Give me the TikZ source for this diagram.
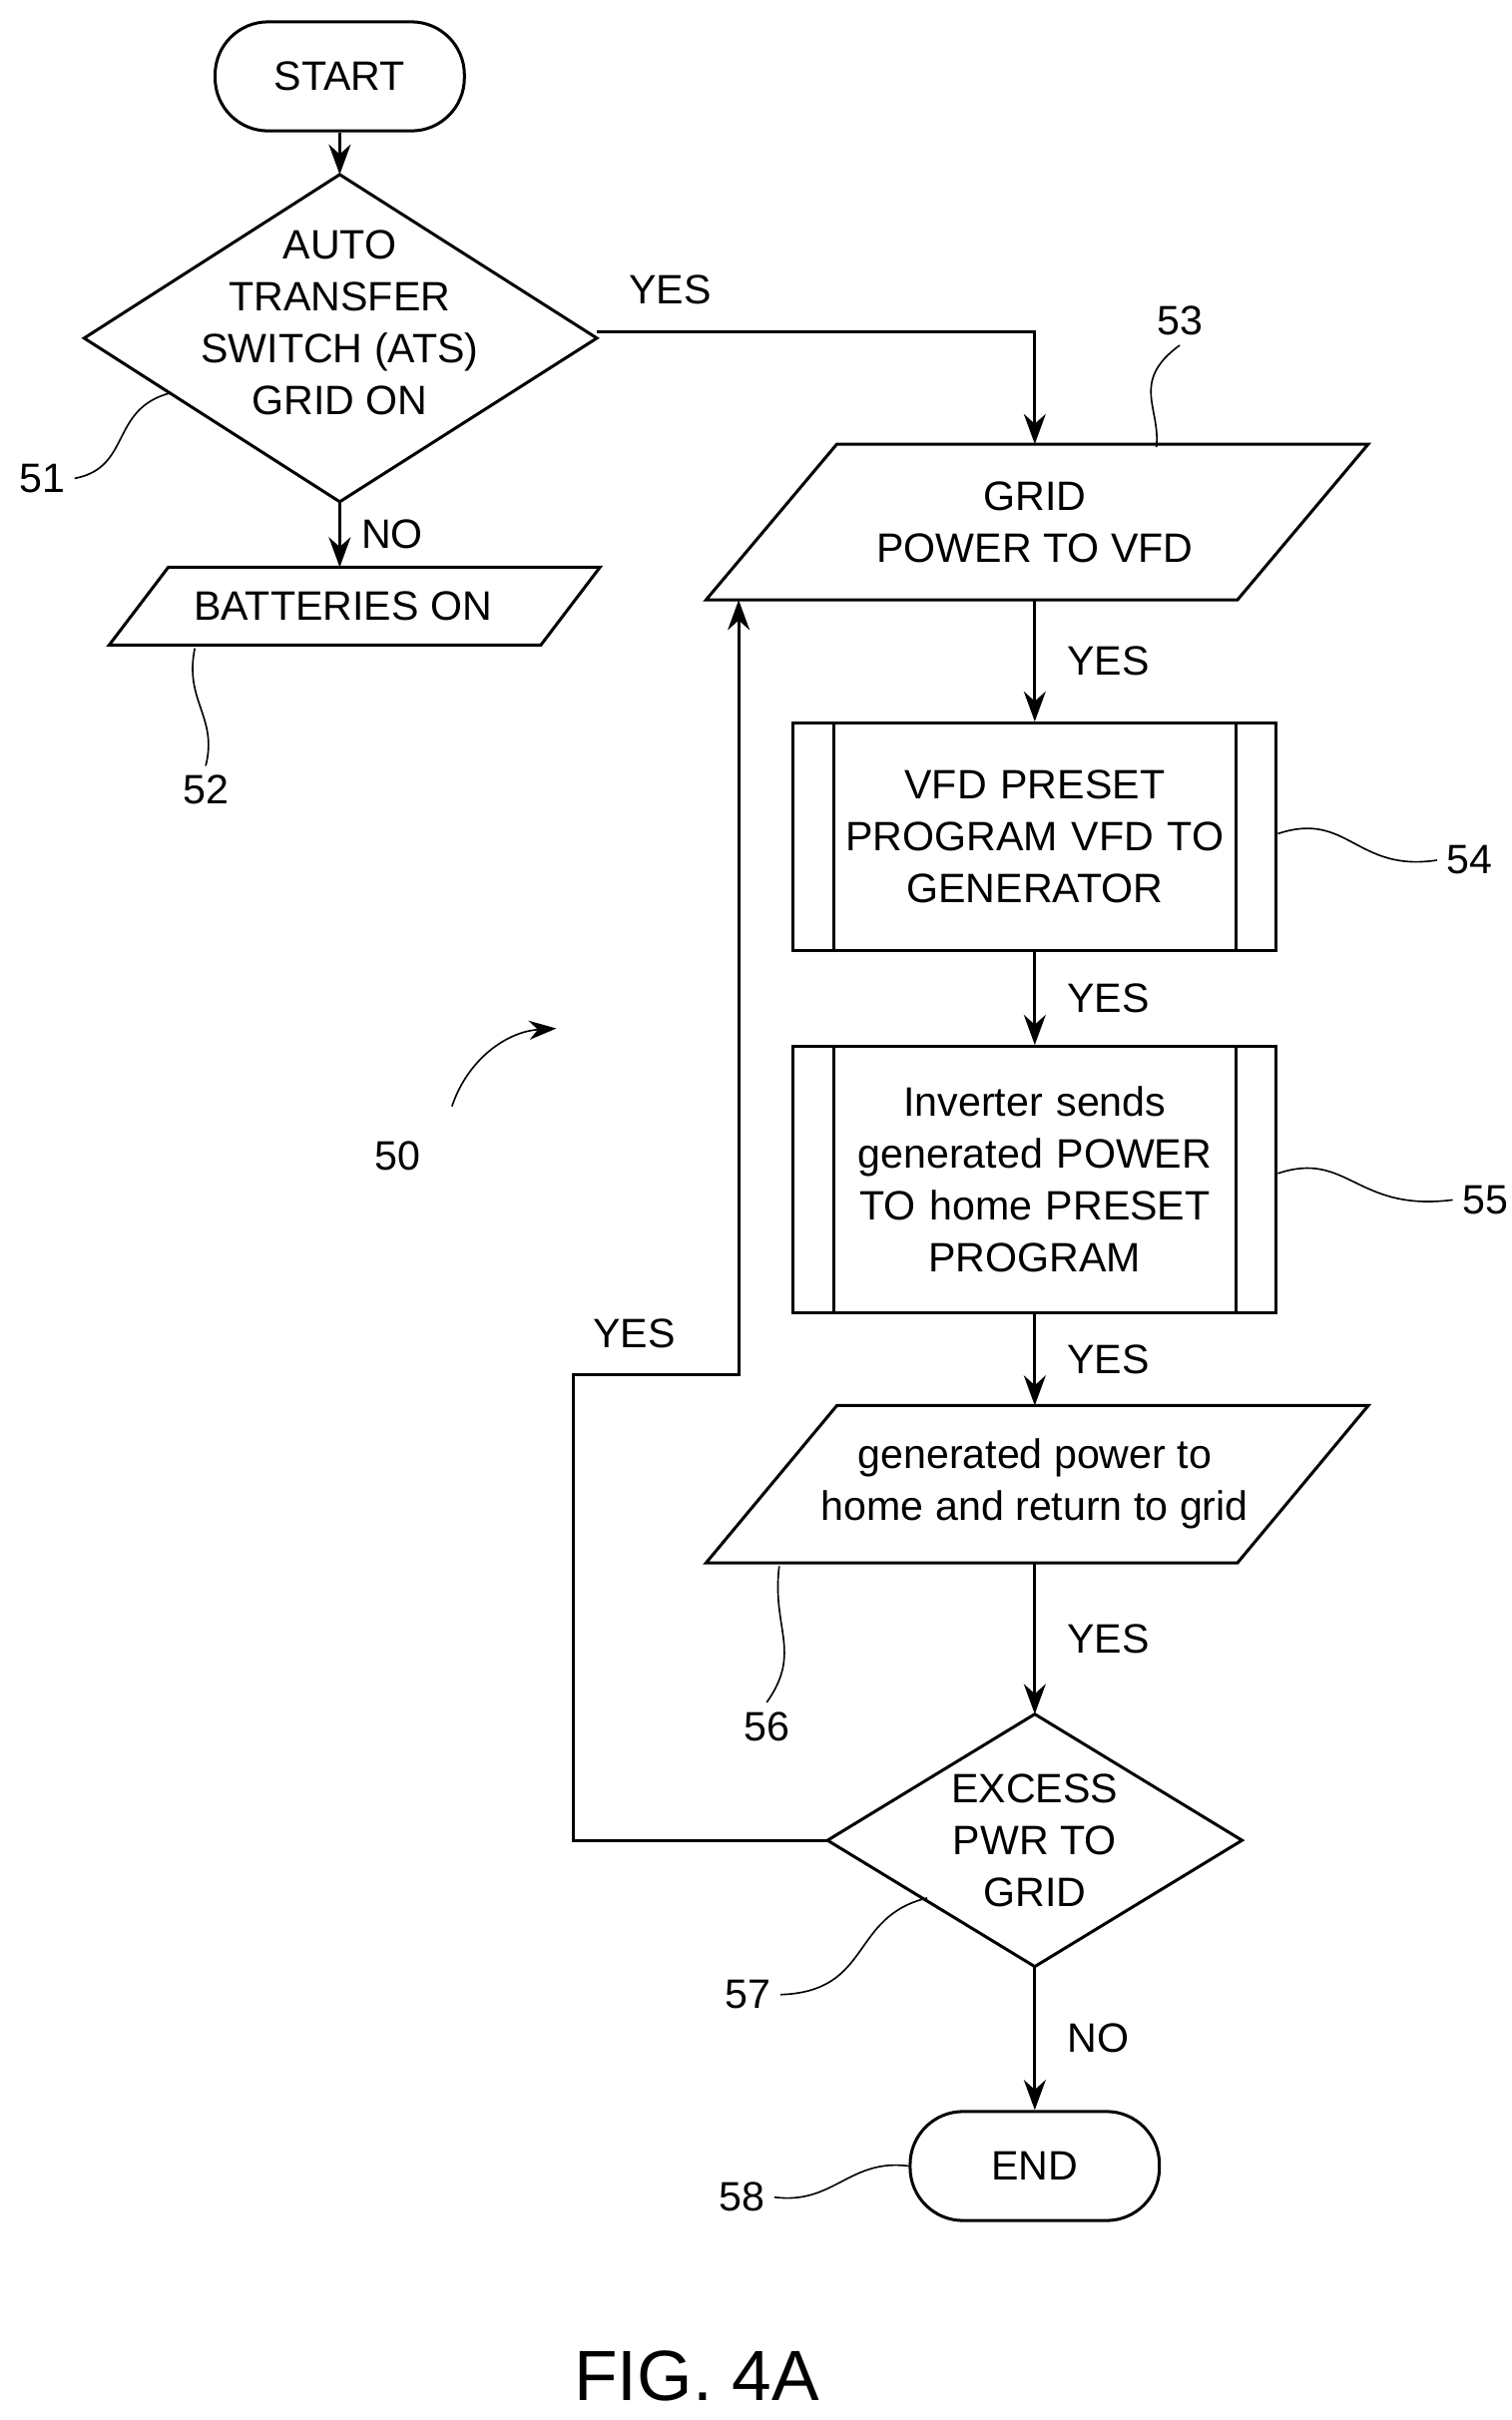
\documentclass[tikz,border=0pt]{standalone}
\usepackage{fontspec}
\setmainfont{Liberation Sans}
\usetikzlibrary{arrows.meta, calc}
\tikzset{
    term/.style = {
      draw, line width=1.1pt,
      rounded corners=0.68cm,
      minimum width=3.2cm, minimum height=1.4cm,
      font=\fontsize{15}{19}\selectfont
    },
    proc/.style = {
      draw, line width=1.1pt,
      minimum width=6.2cm,
      text width=5.2cm, align=center,
      font=\fontsize{15}{19}\selectfont
    },
    txt/.style = {
      align=center,
      font=\fontsize{15}{19}\selectfont
    },
    outline/.style = {
      line width=1.1pt
    },
    flow/.style = {
      line width=1.1pt,
      -{Stealth[length=11pt,width=8pt]}
    },
    ref/.style = {
      line width=0.6pt
    },
}
\begin{document}
\begin{tikzpicture}[x=0.02cm, y=-0.02cm]
    \useasboundingbox (0,0) rectangle (970,1553);

    % terminals
    \node[term] (START) at (218,49) {START};
    \node[term] (END) at (664,1390) {END};

    % decisions
    \draw[outline] (54,217) -- (218,112) -- (383,217) -- (218,322) -- cycle;
    \node[txt] (ATS) at (218,207) {AUTO\\TRANSFER\\SWITCH (ATS)\\GRID ON};
    \coordinate (ATStop) at (218,112);
    \coordinate (ATSbot) at (218,322);
    \coordinate (ATSright) at (383,213);

    \draw[outline] (531,1181) -- (664,1100) -- (797,1181) -- (664,1262) -- cycle;
    \node[txt] (EXCESS) at (664,1181) {EXCESS\\PWR TO\\GRID};
    \coordinate (EXCtop) at (664,1100);
    \coordinate (EXCbot) at (664,1262);
    \coordinate (EXCleft) at (531,1181);

    % input/output
    \draw[outline] (108,364) -- (385,364) -- (347,414) -- (70,414) -- cycle;
    \node[txt] (BATT) at (220,389) {BATTERIES ON};
    \coordinate (BATTtop) at (218,364);

    \draw[outline] (537,285) -- (878,285) -- (794,385) -- (453,385) -- cycle;
    \node[txt] (GRID) at (664,335) {GRID\\POWER TO VFD};
    \coordinate (GRIDtop) at (664,285);
    \coordinate (GRIDbot) at (664,385);
    \coordinate (GRIDret) at (474,385);

    \draw[outline] (537,902) -- (878,902) -- (794,1003) -- (453,1003) -- cycle;
    \node[txt] (HOME) at (664,952) {generated power to\\home and return to grid};
    \coordinate (HOMEtop) at (664,902);
    \coordinate (HOMEbot) at (664,1003);

    % processes
    \node[proc, minimum height=2.92cm] (VFD) at (664,537)
        {VFD PRESET\\PROGRAM VFD TO\\GENERATOR};
    \node[proc, minimum height=3.42cm] (INV) at (664,757)
        {Inverter sends\\generated POWER\\TO home PRESET\\PROGRAM};
    \foreach \n in {VFD, INV} {
      \draw[outline] ($(\n.north west)+(27,0)$) -- ($(\n.south west)+(27,0)$);
      \draw[outline] ($(\n.north east)-(27,0)$) -- ($(\n.south east)-(27,0)$);
    }

    % connectors
    \draw[flow] (START) -- (ATStop);
    \draw[flow] (ATSbot) -- (BATTtop) node[txt, midway, right=4pt] {NO};
    \draw[flow] (ATSright) -- (664,213) -- (GRIDtop);
    \node[txt] at (430,186) {YES};
    \draw[flow] (GRIDbot) -- (VFD.north) node[txt, midway, right=8pt] {YES};
    \draw[flow] (VFD.south) -- (INV.north) node[txt, midway, right=8pt] {YES};
    \draw[flow] (INV.south) -- (HOMEtop) node[txt, midway, right=8pt] {YES};
    \draw[flow] (HOMEbot) -- (EXCtop) node[txt, midway, right=8pt] {YES};
    \draw[flow] (EXCleft) -- (368,1181) -- (368,882) -- (474,882) -- (GRIDret);
    \node[txt] at (407,856) {YES};
    \draw[flow] (EXCbot) -- (END) node[txt, midway, right=8pt] {NO};

    % reference numerals
    \node[txt] (R50) at (255,742) {50};
    \node[txt] (R51) at (27,307) {51};
    \node[txt] (R52) at (132,507) {52};
    \node[txt] (R53) at (757,206) {53};
    \node[txt] (R54) at (943,552) {54};
    \node[txt] (R55) at (953,770) {55};
    \node[txt] (R56) at (492,1108) {56};
    \node[txt] (R57) at (480,1280) {57};
    \node[txt] (R58) at (476,1410) {58};

    \draw[ref] (110,252) .. controls (70,262) and (85,300) .. (R51.east);
    \draw[ref] (125,416) .. controls (118,450) and (140,460) .. (R52.north);
    \draw[ref] (742,287) .. controls (745,262) and (725,245) .. (R53.south);
    \draw[ref] (820,535) .. controls (865,520) and (870,560) .. (R54.west);
    \draw[ref] (820,753) .. controls (865,738) and (870,778) .. (R55.west);
    \draw[ref] (500,1005) .. controls (495,1045) and (515,1060) .. (R56.north);
    \draw[ref] (595,1218) .. controls (545,1230) and (560,1278) .. (R57.east);
    \draw[ref] (END.west) .. controls (545,1385) and (535,1415) .. (R58.east);
    \draw[ref, -{Stealth[length=10pt,width=7pt]}] (290,710) .. controls (300,680) and (325,662) .. (357,660);

    \node[font=\fontsize{26}{30}\selectfont] (FIG) at (447,1525) {FIG. 4A};
\end{tikzpicture}
\end{document}
